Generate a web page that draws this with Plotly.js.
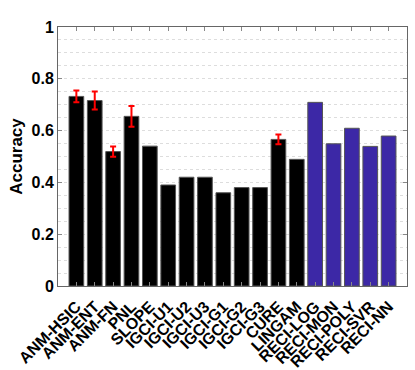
<!DOCTYPE html>
<html>
<head>
<meta charset="utf-8">
<script src="https://cdn.plot.ly/plotly-3.0.1.min.js"></script>
<style>
  html, body { margin: 0; padding: 0; background: #fff; }
  #chart { width: 415px; height: 370px; }
</style>
</head>
<body>
<div id="chart"></div>
<script>
'use strict';

const methods = ['ANM-HSIC', 'ANM-ENT', 'ANM-FN', 'PNL', 'SLOPE', 'IGCI-U1', 'IGCI-U2', 'IGCI-U3',
  'IGCI-G1', 'IGCI-G2', 'IGCI-G3', 'CURE', 'LINGAM', 'RECI-LOG', 'RECI-MON', 'RECI-POLY',
  'RECI-SVR', 'RECI-NN'];
const accuracy = [0.732, 0.716, 0.519, 0.655, 0.54, 0.39, 0.42, 0.42, 0.36, 0.38, 0.38,
  0.566, 0.489, 0.709, 0.549, 0.609, 0.539, 0.579];
// null = no error bar for that method
const accuracyErr = [0.023, 0.035, 0.02, 0.04, null, null, null, null, null, null, null,
  0.019, null, null, null, null, null, null];
const isReci = methods.map(m => m.startsWith('RECI'));

const x = methods.map((m, i) => i);
const colors = isReci.map(r => r ? '#3c28a6' : '#000000');

// only the methods that have an error bar
const errIdx = x.filter(i => accuracyErr[i] !== null);

const font = {family: 'Liberation Sans, Arial, sans-serif', color: '#000', weight: 'bold'};

Plotly.newPlot('chart', [{
  type: 'bar',
  x,
  y: accuracy,
  width: 0.8,
  marker: {
    color: colors,
    line: {color: '#555', width: 1}
  },
  hoverinfo: 'x+y'
}, {
  type: 'scatter',
  mode: 'none',
  x: errIdx,
  y: errIdx.map(i => accuracy[i]),
  error_y: {
    type: 'data',
    array: errIdx.map(i => accuracyErr[i]),
    visible: true,
    color: '#ff0000',
    thickness: 2,
    width: 3
  },
  hoverinfo: 'skip'
}], {
  width: 415,
  height: 370,
  margin: {l: 58, r: 8, t: 27, b: 84},
  paper_bgcolor: '#fff',
  plot_bgcolor: '#fff',
  showlegend: false,
  font,
  xaxis: {
    range: [-1, 18],
    tickmode: 'array',
    tickvals: x,
    ticktext: methods,
    tickangle: -45,
    tickfont: Object.assign({}, font, {size: 16}),
    ticklabelstandoff: 4,
    ticks: 'inside',
    ticklen: 4,
    tickcolor: '#888',
    showline: true,
    linecolor: '#666',
    linewidth: 1,
    mirror: 'ticks',
    showgrid: false,
    zeroline: false,
    automargin: false
  },
  yaxis: {
    range: [0, 1],
    tickvals: [0, 0.2, 0.4, 0.6, 0.8, 1],
    ticktext: ['0', '0.2', '0.4', '0.6', '0.8', '1'],
    tickfont: Object.assign({}, font, {size: 16}),
    ticks: 'inside',
    ticklen: 4,
    tickcolor: '#888',
    showline: true,
    linecolor: '#666',
    linewidth: 1,
    mirror: 'ticks',
    showgrid: true,
    gridcolor: '#dddddd',
    griddash: 'dot',
    gridwidth: 1,
    minor: {dtick: 0.05, showgrid: true, gridcolor: '#dddddd', griddash: 'dot', gridwidth: 1},
    zeroline: false,
    automargin: false,
    title: {text: 'Accuracy', font: Object.assign({}, font, {size: 17}), standoff: 4}
  }
}, {staticPlot: true});
</script>
</body>
</html>
